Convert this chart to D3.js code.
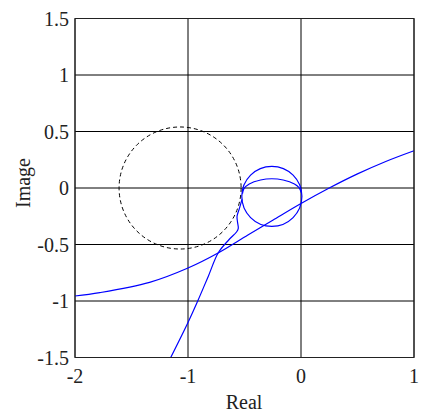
<!DOCTYPE html>
<html>
<head>
<meta charset="utf-8">
<script src="https://cdn.jsdelivr.net/npm/d3@7"></script>
<style>
  html, body { margin: 0; padding: 0; background: #fff; }
</style>
</head>
<body>
<svg id="chart" width="422" height="412"></svg>
<script>
// Axis ticks
const xTicks = [-2, -1, 0, 1];
const yTicks = [-1.5, -1, -0.5, 0, 0.5, 1, 1.5];

// Wide branch, lower left to upper right
const branchX = [-2, -1.78, -1.34, -1, -0.73, -0.47, -0.25, 0, 0.25, 0.5, 0.75, 1];
const branchY = [-0.956, -0.926, -0.835, -0.708, -0.573, -0.416, -0.285, -0.137, 0, 0.125, 0.235, 0.33];

// Steep branch rising from the bottom into the loop
const steepX = [-1.153, -1.0, -0.914, -0.82, -0.732, -0.64, -0.569, -0.555, -0.562, -0.566, -0.545, -0.522];
const steepY = [-1.5, -1.19, -1.0, -0.78, -0.573, -0.46, -0.387, -0.357, -0.30, -0.25, -0.18, -0.1];

// Inner arc of the loop
const arcX = [-0.518, -0.505, -0.458, -0.358, -0.258, -0.158, -0.058, -0.018, 0.002];
const arcY = [-0.05, -0.005, 0.036, 0.071, 0.082, 0.071, 0.036, 0.004, -0.04];

// Loop circle (solid) and reference circle (dashed): centre x, centre y, radius
const circleCx = [-0.258, -1.07];
const circleCy = [-0.074, 0];
const circleR = [0.266, 0.54];
const circleDashed = [false, true];

const FONT = "'Liberation Serif', 'Times New Roman', 'DejaVu Serif', serif";

const svg = d3.select("#chart");
const x = d3.scaleLinear().domain([-2, 1]).range([75, 414]);
const y = d3.scaleLinear().domain([-1.5, 1.5]).range([357.5, 18.5]);

const toPts = (xs, ys) => xs.map((v, i) => [v, ys[i]]);
const line = d3.line().x(d => x(d[0])).y(d => y(d[1])).curve(d3.curveCatmullRom.alpha(0.5));

const plot = svg.append("g");

// Grid
plot.selectAll("line.gx").data(xTicks).join("line")
  .attr("x1", d => x(d)).attr("x2", d => x(d))
  .attr("y1", y(-1.5)).attr("y2", y(1.5))
  .attr("stroke", "#000").attr("stroke-width", 1);
plot.selectAll("line.gy").data(yTicks).join("line")
  .attr("x1", x(-2)).attr("x2", x(1))
  .attr("y1", d => y(d)).attr("y2", d => y(d))
  .attr("stroke", "#000").attr("stroke-width", 1);

// Circles
const circles = circleCx.map((cx, i) => ({ cx, cy: circleCy[i], r: circleR[i], dashed: circleDashed[i] }));
plot.selectAll("circle").data(circles).join("circle")
  .attr("cx", d => x(d.cx)).attr("cy", d => y(d.cy))
  .attr("r", d => x(d.r) - x(0))
  .attr("fill", "none")
  .attr("stroke", d => d.dashed ? "#000" : "#0000ff")
  .attr("stroke-width", d => d.dashed ? 1 : 1.2)
  .attr("stroke-dasharray", d => d.dashed ? "4,3" : null);

// Curves
[toPts(branchX, branchY), toPts(steepX, steepY), toPts(arcX, arcY)].forEach(pts => {
  plot.append("path").datum(pts)
    .attr("d", line)
    .attr("fill", "none")
    .attr("stroke", "#0000ff")
    .attr("stroke-width", 1.2);
});

// Frame
plot.append("rect")
  .attr("x", x(-2)).attr("y", y(1.5))
  .attr("width", x(1) - x(-2)).attr("height", y(-1.5) - y(1.5))
  .attr("fill", "none").attr("stroke", "#222").attr("stroke-width", 1);

const txt = sel => sel.attr("font-family", FONT).attr("font-size", 20).attr("fill", "#222");

// Tick labels
svg.selectAll("text.xt").data(xTicks).join("text")
  .call(txt)
  .attr("x", d => x(d)).attr("y", 383)
  .attr("text-anchor", "middle")
  .text(d => d);
svg.selectAll("text.yt").data(yTicks).join("text")
  .call(txt)
  .attr("x", 69).attr("y", d => y(d) + 7)
  .attr("text-anchor", "end")
  .text(d => d);

// Axis titles
svg.append("text").call(txt).attr("x", 244).attr("y", 409).attr("text-anchor", "middle").text("Real");
svg.append("text").call(txt).attr("transform", "translate(30,183) rotate(-90)").attr("text-anchor", "middle").text("Image");
</script>
</body>
</html>
